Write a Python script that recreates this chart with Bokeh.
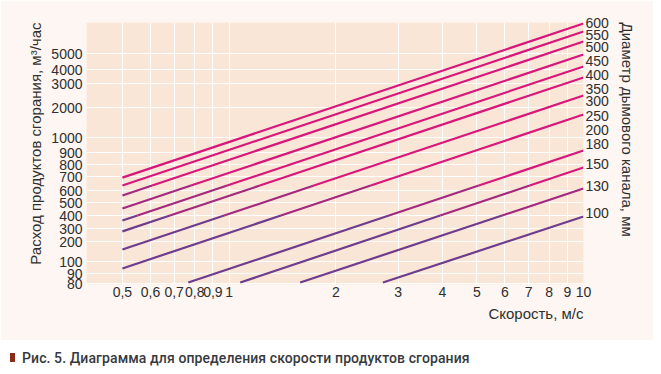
import numpy as np
from bokeh.plotting import figure
from bokeh.models import LogAxis, FixedTicker, Range1d, Title, Div
from bokeh.layouts import column
from bokeh.embed import file_html
from bokeh.resources import INLINE

# ---------------- data ----------------
# flue diameter, mm, for each drawn line
diameters = [600, 550, 500, 450, 400, 350, 300, 250, 180, 150, 130, 100]
# line end points: velocity (m/s) and flow (m3/h)
v_start = [0.5, 0.5, 0.5, 0.5, 0.5, 0.5, 0.5, 0.5, 0.767, 1.075, 1.587, 2.717]
q_start = [475, 410, 341, 268, 214, 175, 125, 88, 67.7, 67.7, 67.7, 67.7]
v_end = [10, 10, 10, 10, 10, 10, 10, 10, 10, 10, 10, 10]
q_end = [8300, 7160, 5943, 4670, 3740, 3048, 2182, 1532, 785, 573, 388, 231]

# x-axis ticks
x_ticks = [0.5, 0.6, 0.7, 0.8, 0.9, 1, 2, 3, 4, 5, 6, 7, 8, 9, 10]
x_tick_labels = ["0,5", "0,6", "0,7", "0,8", "0,9", "1", "2", "3", "4", "5",
                 "6", "7", "8", "9", "10"]
# left axis labels and where they sit on the axis
y_tick_labels = ["80", "90", "100", "200", "300", "400", "500", "600", "700",
                 "800", "900", "1000", "2000", "3000", "4000", "5000"]
y_tick_at = [66.45, 80.04, 100, 145.0, 184.5, 234.9, 299.1, 373.8, 484.8,
             605.7, 756.9, 1000, 1745.5, 2726, 3535, 4758]
# right axis: diameter labels and where they sit
d_labels = ["600", "550", "500", "450", "400", "350", "300", "250", "200",
            "180", "150", "130", "100"]
d_label_at = [8382, 6770, 5320, 4103, 3222, 2484, 1952, 1505, 1160, 894.4,
              617.1, 410.3, 248.4]

# ---------------- style ----------------
PURPLE, MID, MAGENTA = "#6f3b8d", "#a3297f", "#d8177b"
BAND_LO, BAND_HI = 235.0, 410.0
TXT = "#2f2f2f"
FONT = "Liberation Sans"

p = figure(width=653, height=340, x_axis_type="log", y_axis_type="log",
           x_range=Range1d(0.396, 10.0), y_range=Range1d(65.3, 8461),
           output_backend="svg", toolbar_location=None,
           min_border_left=86, min_border_right=70, min_border_top=22,
           min_border_bottom=56)
p.background_fill_color = "#f9e6d6"
p.border_fill_color = "#fdf6f2"
p.outline_line_color = None

# colour the lines by height (purple low -> magenta high)
xs, ys, cols = [], [], []
for v0, q0, v1, q1 in zip(v_start, q_start, v_end, q_end):
    lv0, lq0, lv1, lq1 = map(np.log10, (v0, q0, v1, q1))
    ts = [0.0, 1.0]
    for b in (BAND_LO, BAND_HI):
        t = (np.log10(b) - lq0) / (lq1 - lq0)
        if 0 < t < 1:
            ts.append(t)
    ts = sorted(ts)
    for a, b in zip(ts[:-1], ts[1:]):
        xs.append([10 ** (lv0 + a * (lv1 - lv0)), 10 ** (lv0 + b * (lv1 - lv0))])
        ys.append([10 ** (lq0 + a * (lq1 - lq0)), 10 ** (lq0 + b * (lq1 - lq0))])
        qm = 10 ** (lq0 + (a + b) / 2 * (lq1 - lq0))
        cols.append(PURPLE if qm < BAND_LO else (MID if qm < BAND_HI else MAGENTA))
p.multi_line(xs, ys, line_color=cols, line_width=2.2)

# axes
xa = p.below[0]
xa.ticker = FixedTicker(ticks=x_ticks, minor_ticks=[])
xa.major_label_overrides = {t: s for t, s in zip(x_ticks, x_tick_labels)}
ya = p.left[0]
ya.ticker = FixedTicker(ticks=y_tick_at, minor_ticks=[])
ya.major_label_overrides = {t: s for t, s in zip(y_tick_at, y_tick_labels)}

ra = LogAxis(ticker=FixedTicker(ticks=d_label_at, minor_ticks=[]))
ra.major_label_overrides = {t: s for t, s in zip(d_label_at, d_labels)}
p.add_layout(ra, "right")

for ax in (xa, ya, ra):
    ax.axis_line_color = None
    ax.major_tick_line_color = None
    ax.minor_tick_line_color = None
    ax.major_tick_out = 0
    ax.major_tick_in = 0
    ax.major_label_text_font = FONT
    ax.major_label_text_font_size = "14px"
    ax.major_label_text_color = TXT
xa.major_label_standoff = 2
ya.major_label_standoff = 4
ra.major_label_standoff = 2

p.xgrid.grid_line_color = "white"
p.ygrid.grid_line_color = "white"

def title(text, side, align, standoff=10):
    t = Title(text=text, align=align, text_font=FONT, text_font_size="15px",
              text_font_style="normal", text_color=TXT, standoff=standoff)
    p.add_layout(t, side)

title("Скорость, м/с", "below", "right", standoff=6)
title("Расход продуктов сгорания, м³/час", "left", "right")
title("Диаметр дымового канала, мм", "right", "left", standoff=14)

caption = Div(
    text='<span style="display:inline-block;width:5px;height:9px;'
         'background:#8c2b1a;margin-right:7px;vertical-align:1px"></span>'
         'Рис. 5. Диаграмма для определения скорости продуктов сгорания',
    width=653, height=26,
    styles={"font-family": "Roboto", "font-size": "14px", "font-weight": "500",
            "color": "#363a40", "padding-left": "5px", "padding-top": "5px",
            "line-height": "17px", "letter-spacing": "0.1px"})

open("out.html", "w").write(file_html(column(p, caption), INLINE))
